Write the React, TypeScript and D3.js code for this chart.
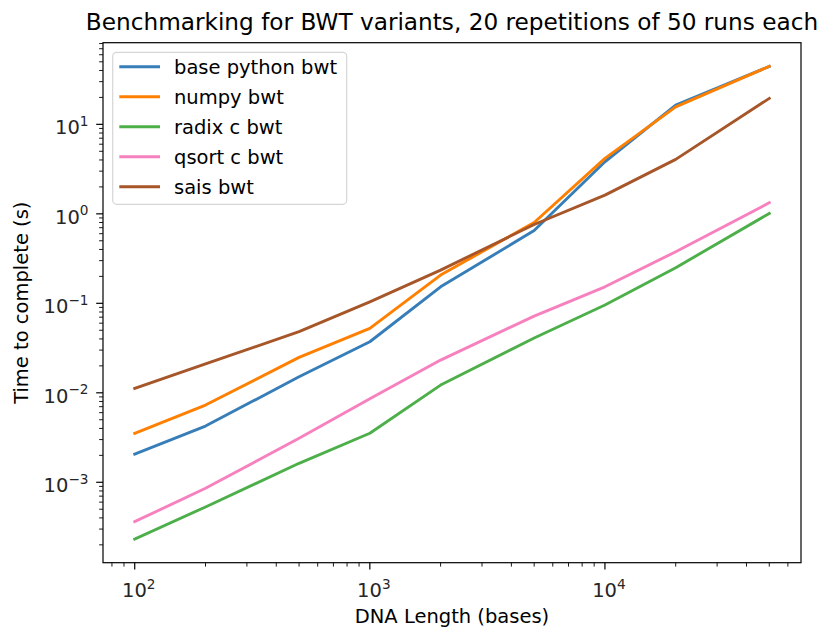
import React from "react";
import * as d3 from "d3";

const lengths = [100, 200, 500, 1000, 2000, 5000, 10000, 20000, 50000];
const basePython = [0.00207, 0.00425, 0.0151, 0.0372, 0.153, 0.65, 3.82, 16.4, 44.3];
const numpyBwt = [0.00352, 0.0073, 0.0249, 0.0526, 0.207, 0.8, 4.17, 15.7, 44.5];
const radixC = [0.000232, 0.00053, 0.00163, 0.00353, 0.0122, 0.041, 0.0957, 0.25, 1.01];
const qsortC = [0.000363, 0.000857, 0.0031, 0.0086, 0.0232, 0.072, 0.153, 0.377, 1.33];
const saisBwt = [0.0112, 0.021, 0.0482, 0.104, 0.235, 0.76, 1.62, 4.06, 19.5];

const seriesNames = ["base python bwt", "numpy bwt", "radix c bwt", "qsort c bwt", "sais bwt"];
const seriesValues = [basePython, numpyBwt, radixC, qsortC, saisBwt];
const seriesColors = ["#377eb8", "#ff7f00", "#4daf4a", "#f781bf", "#a65628"];

const xMajorExps = [2, 3, 4];
const yMajorExps = [-3, -2, -1, 0, 1];

const W = 822, H = 633;
const L = 103, R = 801, T = 42.7, B = 562.7;
const FONT = "DejaVu Sans, sans-serif";
const FS = 19.5;

function logDomain(vals: number[]): [number, number] {
  const lo = Math.log10(d3.min(vals)!);
  const hi = Math.log10(d3.max(vals)!);
  const m = (hi - lo) * 0.05;
  return [Math.pow(10, lo - m), Math.pow(10, hi + m)];
}

function minorTicks(dom: [number, number]) {
  const out: number[] = [];
  const a = Math.floor(Math.log10(dom[0])), b = Math.ceil(Math.log10(dom[1]));
  for (let e = a; e <= b; e++) {
    for (let k = 2; k <= 9; k++) {
      const v = k * Math.pow(10, e);
      if (v >= dom[0] && v <= dom[1]) out.push(v);
    }
  }
  return out;
}

function Pow({ exp, x, y, anchor }: { exp: number; x: number; y: number; anchor: string }) {
  const s = exp < 0 ? "\u2212" + Math.abs(exp) : String(exp);
  return (
    <text x={x} y={y} textAnchor={anchor} fontFamily={FONT} fontSize={FS} fill="#262626">
      10
      <tspan fontSize={FS * 0.7} dy={-FS * 0.42}>{s}</tspan>
    </text>
  );
}

export default function App() {
  const xDom = logDomain(lengths);
  const yDom = logDomain(seriesValues.flat());
  const x = d3.scaleLog().domain(xDom).range([L, R]);
  const y = d3.scaleLog().domain(yDom).range([B, T]);
  const line = d3
    .line<[number, number]>()
    .x((d) => x(d[0]))
    .y((d) => y(d[1]));

  const xMinor = minorTicks(xDom);
  const yMinor = minorTicks(yDom);
  const tickColor = "#000";

  const legX = 112.7, legY = 52.3, legW = 234, legH = 152;
  const rowH = 30;

  return (
    <svg width={W} height={H} style={{ position: "absolute", left: 0, top: 0, background: "#fff" }}>
      <rect x={0} y={0} width={W} height={H} fill="#fff" />
      <text x={(L + R) / 2} y={30} textAnchor="middle" fontFamily={FONT} fontSize={23.2} fill="#000">
        Benchmarking for BWT variants, 20 repetitions of 50 runs each
      </text>
      {/* series */}
      <g>
        {seriesValues.map((vals, i) => (
          <path
            key={i}
            d={line(lengths.map((l, j) => [l, vals[j]] as [number, number]))!}
            fill="none"
            stroke={seriesColors[i]}
            strokeWidth={2.9}
            strokeLinejoin="round"
            strokeLinecap="square"
          />
        ))}
      </g>
      {/* frame */}
      <rect x={L} y={T} width={R - L} height={B - T} fill="none" stroke="#000" strokeWidth={1.2} />
      {/* x ticks */}
      {xMinor.map((v, i) => (
        <line key={"xm" + i} x1={x(v)} x2={x(v)} y1={B} y2={B + 3.9} stroke={tickColor} strokeWidth={0.9} />
      ))}
      {xMajorExps.map((e) => (
        <g key={"xM" + e}>
          <line x1={x(Math.pow(10, e))} x2={x(Math.pow(10, e))} y1={B} y2={B + 6.8} stroke={tickColor} strokeWidth={1.2} />
          <Pow exp={e} x={x(Math.pow(10, e)) + 4} y={597.3} anchor="middle" />
        </g>
      ))}
      {/* y ticks */}
      {yMinor.map((v, i) => (
        <line key={"ym" + i} x1={L} x2={L - 3.9} y1={y(v)} y2={y(v)} stroke={tickColor} strokeWidth={0.9} />
      ))}
      {yMajorExps.map((e) => (
        <g key={"yM" + e}>
          <line x1={L} x2={L - 6.8} y1={y(Math.pow(10, e))} y2={y(Math.pow(10, e))} stroke={tickColor} strokeWidth={1.2} />
          <Pow exp={e} x={88.5} y={y(Math.pow(10, e)) + 9.7} anchor="end" />
        </g>
      ))}
      {/* axis labels */}
      <text x={(L + R) / 2} y={623} textAnchor="middle" fontFamily={FONT} fontSize={FS} fill="#000">
        DNA Length (bases)
      </text>
      <text
        transform={`translate(28,${(T + B) / 2}) rotate(-90)`}
        textAnchor="middle"
        fontFamily={FONT}
        fontSize={FS}
        fill="#000"
      >
        Time to complete (s)
      </text>
      {/* legend */}
      <rect x={legX} y={legY} width={legW} height={legH} rx={4} fill="#fff" fillOpacity={0.8} stroke="#d6d6d6" strokeWidth={1.2} />
      {seriesNames.map((n, i) => {
        const cy = legY + 14.5 + i * rowH;
        return (
          <g key={n}>
            <line x1={119.3} x2={160} y1={cy} y2={cy} stroke={seriesColors[i]} strokeWidth={2.9} />
            <text x={174} y={cy + 7} fontFamily={FONT} fontSize={FS} fill="#000">
              {n}
            </text>
          </g>
        );
      })}
    </svg>
  );
}
